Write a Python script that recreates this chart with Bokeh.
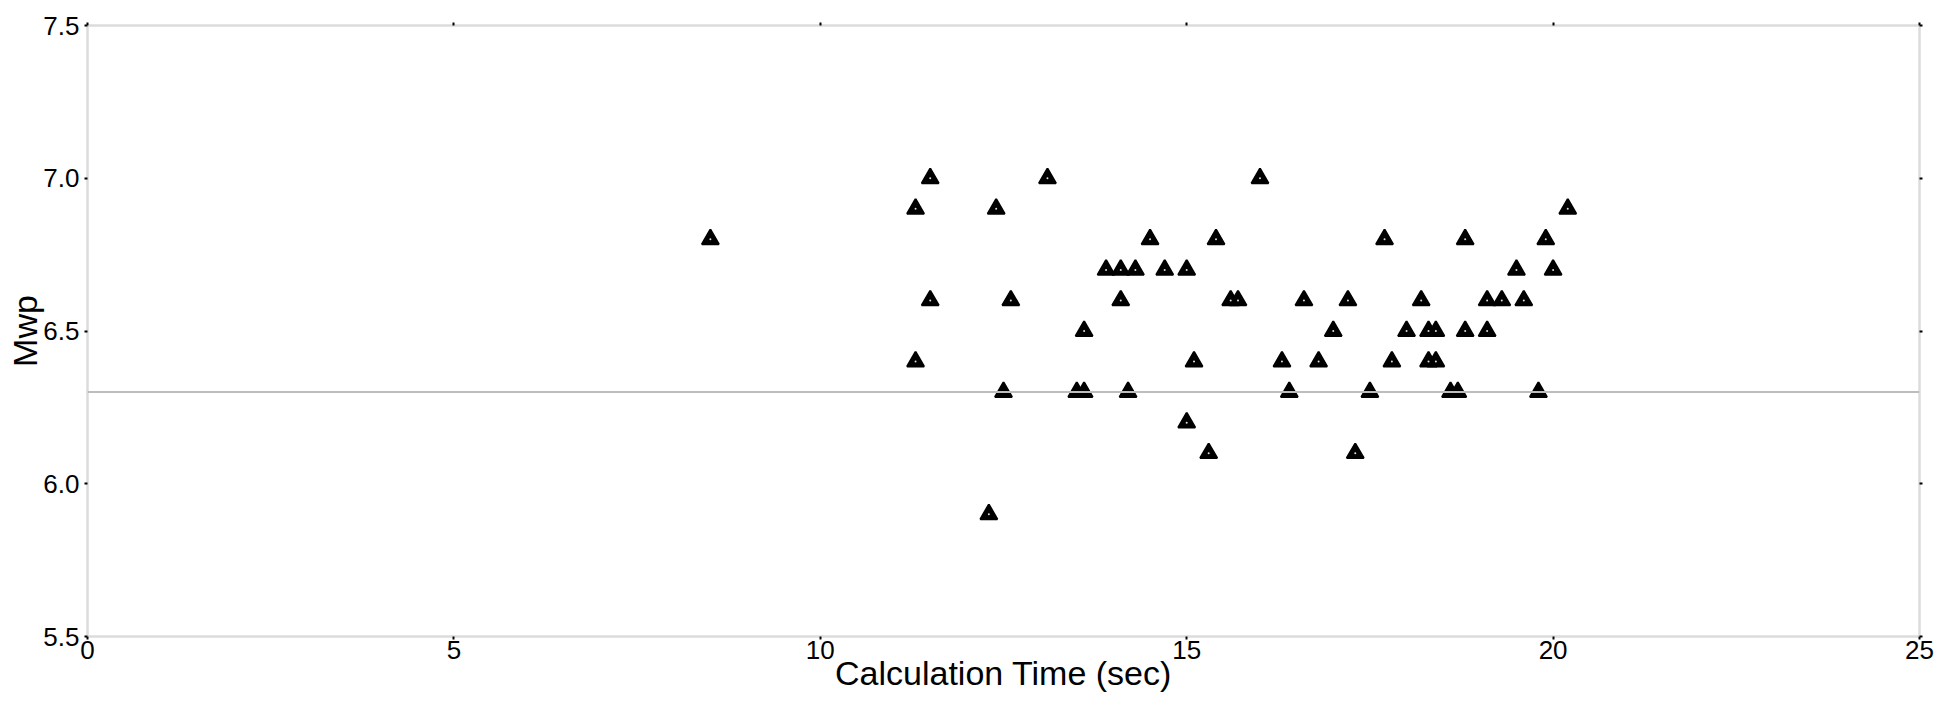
from bokeh.plotting import figure
from bokeh.models import Range1d, LinearAxis, FixedTicker, Span, ColumnDataSource, PrintfTickFormatter, CustomJSTickFormatter
from bokeh.embed import file_html
from bokeh.resources import INLINE

calc_time = [8.5,
             11.3, 11.3, 11.5, 11.5,
             12.3, 12.4, 12.5, 12.6,
             13.1, 13.5, 13.6, 13.6,
             13.9, 14.1, 14.1, 14.2, 14.3, 14.5, 14.7,
             15.0, 15.0, 15.1, 15.3, 15.4, 15.6, 15.7,
             16.0, 16.3, 16.4, 16.6, 16.8,
             17.0, 17.2, 17.3, 17.5, 17.7, 17.8,
             18.0, 18.2, 18.3, 18.4, 18.3, 18.4, 18.6, 18.7, 18.8, 18.8,
             19.1, 19.1, 19.3, 19.5, 19.6, 19.8, 19.9, 20.0, 20.2]
mwp = [6.8,
       6.9, 6.4, 7.0, 6.6,
       5.9, 6.9, 6.3, 6.6,
       7.0, 6.3, 6.3, 6.5,
       6.7, 6.7, 6.6, 6.3, 6.7, 6.8, 6.7,
       6.7, 6.2, 6.4, 6.1, 6.8, 6.6, 6.6,
       7.0, 6.4, 6.3, 6.6, 6.4,
       6.5, 6.6, 6.1, 6.3, 6.8, 6.4,
       6.5, 6.6, 6.5, 6.5, 6.4, 6.4, 6.3, 6.3, 6.8, 6.5,
       6.6, 6.5, 6.6, 6.7, 6.6, 6.3, 6.8, 6.7, 6.9]
reference_mwp = 6.3
x_ticks = [0, 5, 10, 15, 20, 25]
y_ticks = [5.5, 6.0, 6.5, 7.0, 7.5]

FONT = "Liberation Sans"

p = figure(width=1940, height=695,
           x_range=Range1d(0, 25), y_range=Range1d(5.5, 7.5),
           output_backend="svg", toolbar_location=None,
           min_border_left=87, min_border_right=21, min_border_top=25, min_border_bottom=59,
           background_fill_color="white", border_fill_color="white")
p.outline_line_color = "#dcdcdc"
p.outline_line_width = 2
p.xgrid.visible = False
p.ygrid.visible = False

def style_axis(ax):
    ax.axis_line_color = "#dcdcdc"
    ax.axis_line_width = 2
    ax.major_tick_line_color = "black"
    ax.major_tick_line_width = 2
    ax.major_tick_out = 3
    ax.major_tick_in = 0
    ax.minor_tick_line_color = None
    ax.major_label_text_font = FONT
    ax.major_label_text_font_size = "26px"
    ax.major_label_text_color = "black"
    ax.axis_label_text_font = FONT
    ax.axis_label_text_font_size = "34px"
    ax.axis_label_text_font_style = "normal"
    ax.axis_label_text_color = "black"

xa = p.xaxis[0]
ya = p.yaxis[0]
xa.ticker = FixedTicker(ticks=x_ticks)
ya.ticker = FixedTicker(ticks=y_ticks)
xa.axis_label = "Calculation Time (sec)"
ya.axis_label = "Mwp"
style_axis(xa)
style_axis(ya)
xa.formatter = PrintfTickFormatter(format="%d")
ya.formatter = PrintfTickFormatter(format="%.1f")
xa.major_label_standoff = 1
xa.axis_label_standoff = -8
ya.major_label_standoff = 5
ya.axis_label_standoff = -4

top = LinearAxis(ticker=FixedTicker(ticks=x_ticks), formatter=CustomJSTickFormatter(code="return ''"))
right = LinearAxis(ticker=FixedTicker(ticks=y_ticks), formatter=CustomJSTickFormatter(code="return ''"))
style_axis(top)
style_axis(right)
top.major_label_standoff = 0
right.major_label_standoff = 0
p.add_layout(top, "above")
p.add_layout(right, "right")

p.add_layout(Span(location=reference_mwp, dimension="width",
                  line_color="#bdbdbd", line_width=2))

src = ColumnDataSource(data=dict(x=calc_time, y=mwp))
p.scatter("x", "y", source=src, marker="triangle", size=17,
          fill_color="black", line_color="black", line_width=2)
p.scatter("x", "y", source=src, marker="circle", size=2,
          fill_color="#dddddd", line_color=None)

open("out.html", "w").write(file_html(p, INLINE))
